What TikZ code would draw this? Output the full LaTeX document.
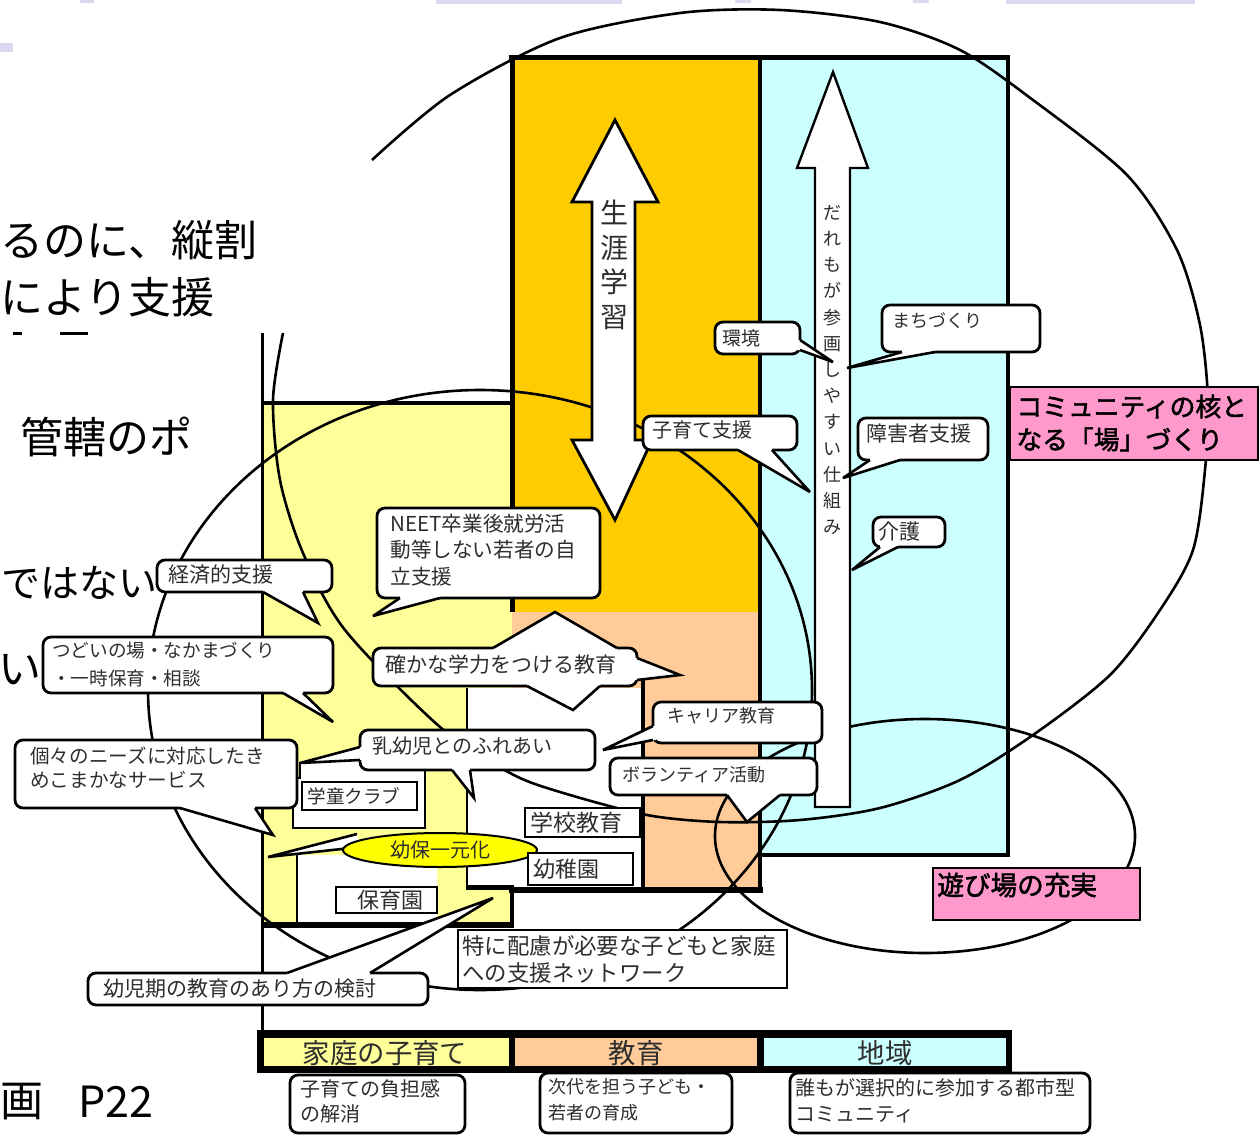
\documentclass[tikz,border=0pt]{standalone}
\usepackage{fontspec}
\setmainfont{Noto Sans CJK JP}
\newfontfamily\jpb[FakeBold=2]{Noto Sans CJK JP}
\usetikzlibrary{fit,shapes.geometric}
\definecolor{cyel}{HTML}{FFFF99}
\definecolor{corg}{HTML}{FFCC00}
\definecolor{cpch}{HTML}{FFCC99}
\definecolor{ccyn}{HTML}{CCFFFF}
\definecolor{cpnk}{HTML}{FF99CC}
\definecolor{cyel2}{HTML}{FFFF00}
\definecolor{txt}{HTML}{2E2E2E}
\definecolor{lav}{HTML}{D9D9EF}
\newcommand\fsz[2]{\fontsize{#1}{#2}\selectfont}
\newcommand\mkbox[6][bx]{\node[#1, fit={(#3,#4) (#5,#6)}] (#2) {};}
\newcommand\ctail[8]{%
  \fill[white] ({#1+#7},{#2+#8}) -- (#1,#2) -- (#5,#6) -- (#3,#4) -- ({#3+#7},{#4+#8}) -- cycle;
  \draw[tl] (#1,#2) -- (#5,#6) -- (#3,#4);}
\tikzset{
  bx/.style={draw=black, line width=1.4pt, fill=white, rounded corners=4pt, inner sep=0pt},
  sq/.style={draw=black, line width=1.3pt, fill=white, inner sep=0pt},
  pk/.style={draw=black, line width=1.2pt, fill=cpnk, inner sep=0pt},
  lbl/.style={inner sep=0pt, anchor=west, align=left, text=txt},
  tl/.style={draw=black, line width=1.3pt, line join=miter, miter limit=6},
  curve/.style={draw=black, line width=1.3pt},
  wall/.style={draw=black, line width=2pt},
  arr/.style={draw=black, line width=1.4pt, fill=white, line join=miter},
  big/.style={inner sep=0pt, text=black, font=\fsz{21.5}{26}},
}
\begin{document}
\begin{tikzpicture}[x=0.5pt,y=-0.5pt]
\useasboundingbox (0,0) rectangle (1260,1136);
\fill[white] (0,0) rectangle (1260,1136);
% slide decoration
\fill[lav] (80,0) rectangle (94,3);
\fill[lav] (436,0) rectangle (622,4);
\fill[lav] (735,0) rectangle (751,3);
\fill[lav] (913,0) rectangle (929,3);
\fill[lav] (1006,0) rectangle (1195,4);
\fill[lav] (0,43) rectangle (13,52);
% left slide text
\node[big, anchor=west] (ta) at (0,240) {るのに、縦割};
\node[big, anchor=west] (tb) at (0,297) {により支援};
\fill (13,332) rectangle (22,335);
\fill (60,332) rectangle (88,335);
\node[big, anchor=west] (tc) at (20,437) {管轄のポ};
\node[big, anchor=west, font=\fsz{19.5}{24}] (td) at (1,583) {ではない};
\node[big, anchor=east] (te) at (42,670) {い};
\node[big, anchor=west] (tf) at (0,1102) {画};
\node[big, anchor=west] (tg) at (78,1102) {P22};
% colour fields
\fill[cyel] (262,403) rectangle (512,925);
\fill[corg] (512,57) rectangle (760,612);
\fill[cpch] (512,612) rectangle (760,890);
\fill[ccyn] (760,57) rectangle (1008,855);
% white interior regions
\fill[white] (467,688) rectangle (643,890);
\fill[white] (300,762) -- (365,748) -- (365,770) -- (425,770) -- (425,828) -- (293,828) -- (293,778) -- (300,778) -- cycle;
\fill[white] (297,855) rectangle (437,923);
% walls
\draw[wall, line width=1.5pt] (262,333) -- (262,1035);
\draw[wall] (262,403) -- (514,403);
\draw[wall, line width=2.5pt] (509,57) -- (1010,57);
\draw[wall, line width=2.5pt] (512,57) -- (512,612);
\draw[wall] (760,57) -- (760,890);
\draw[wall] (1008,57) -- (1008,855) -- (760,855);
\draw[wall, line width=3pt] (509,890) -- (763,890);
\draw[wall, line width=3pt] (262,925) -- (514,925);
\draw[wall] (512,885) -- (512,925);
\draw[wall] (643,677) -- (643,890);
\draw[wall, line width=1.4pt] (467,688) -- (467,890);
\draw[wall, line width=2.5pt] (467,887) -- (512,887);
\draw[wall, line width=1.4pt] (300,762) -- (300,778) -- (293,778) -- (293,828) -- (425,828) -- (425,770);
\draw[wall, line width=1.4pt] (297,855) -- (297,923);
% circles
\draw[curve] plot[smooth, tension=0.5] coordinates {(372,160) (450,95) (560,38) (680,13) (780,10) (880,22) (960,50) (1033,100) (1127,175) (1177,250) (1200,325) (1208,400) (1205,470) (1193,550) (1160,610) (1110,675) (1033,735) (960,780) (880,808) (800,820) (720,822) (647,815) (560,792) (510,773) (440,727) (345,630) (303,553) (280,480) (273,400) (283,333)};
\draw[curve] (480,690) ellipse [x radius=332, y radius=300];
\draw[curve] (925,836) ellipse [x radius=210, y radius=117];
% arrows
\draw[arr] (615,120) -- (658,202) -- (635,202) -- (635,440) -- (652,440) -- (615,520) -- (572,440) -- (592,440) -- (592,202) -- (572,202) -- cycle;
\node[inner sep=0pt, align=center, text=txt, font=\fsz{14}{17.25}] (sgt) at (614,265) {生\\涯\\学\\習};
\draw[arr, line width=1.2pt] (833,72) -- (868,168) -- (850,168) -- (850,807) -- (815,807) -- (815,168) -- (797,168) -- cycle;
\node[inner sep=0pt, align=center, text=txt, font=\fsz{9}{13.1}] (dat) at (832,370) {だ\\れ\\も\\が\\参\\画\\し\\や\\す\\い\\仕\\組\\み};
% callouts
\mkbox{kankyo}{715}{322}{800}{354}
\ctail{800}{340}{800}{350}{833}{362}{-3}{0}
\node[lbl, font=\fsz{9.5}{12}] (kankyot) at (722,338) {環境};
\mkbox{machi}{882}{305}{1040}{352}
\ctail{902}{352}{935}{352}{847}{368}{0}{-3}
\node[lbl, font=\fsz{9}{11}] (machit) at (892,321) {まちづくり};
\mkbox{kosodate}{643}{416}{797}{450}
\ctail{738}{450}{772}{450}{810}{492}{0}{-3}
\node[lbl, font=\fsz{10}{12}] (kosodatet) at (652,430) {子育て支援};
\mkbox{shogai}{858}{418}{988}{460}
\ctail{870}{460}{900}{460}{843}{478}{0}{-3}
\node[lbl, font=\fsz{10.5}{13}] (shogait) at (866,434) {障害者支援};
\mkbox{kaigo}{873}{517}{945}{547}
\ctail{880}{547}{898}{547}{852}{570}{0}{-3}
\node[lbl, font=\fsz{10.5}{13}] (kaigot) at (878,532) {介護};
\mkbox{neet}{377}{508}{600}{598}
\ctail{400}{598}{440}{598}{373}{616}{0}{-3}
\node[lbl, font=\fsz{10.3}{13.25}] (neett) at (390,550) {NEET卒業後就労活\\動等しない若者の自\\立支援};
\mkbox{keizai}{157}{560}{332}{592}
\ctail{263}{592}{303}{592}{318}{623}{0}{-3}
\node[lbl, font=\fsz{10.5}{13}] (keizait) at (168,575) {経済的支援};
\mkbox{tsudoi}{43}{637}{333}{693}
\ctail{283}{693}{303}{693}{333}{722}{0}{-3}
\node[lbl, font=\fsz{9.3}{14}] (tsudoit) at (52,665) {つどいの場・なかまづくり\\・一時保育・相談};
\mkbox{tashika}{373}{648}{637}{686}
\ctail{493}{648}{617}{648}{555}{612}{0}{3}
\ctail{637}{658}{637}{680}{680}{675}{-3}{0}
\ctail{527}{686}{600}{686}{573}{710}{0}{-3}
\node[lbl, font=\fsz{10.5}{13}] (tashikat) at (385,665) {確かな学力をつける教育};
\mkbox{career}{653}{702}{822}{743}
\ctail{653}{726}{653}{740}{603}{750}{3}{0}
\node[lbl, font=\fsz{9}{11}] (careert) at (667,716) {キャリア教育};
\mkbox{volun}{610}{758}{817}{795}
\ctail{727}{795}{780}{795}{747}{822}{0}{-3}
\node[lbl, font=\fsz{9}{11}] (volunt) at (622,775) {ボランティア活動};
\mkbox{nyu}{360}{730}{595}{770}
\ctail{452}{770}{470}{770}{474}{798}{0}{-3}
\ctail{360}{747}{360}{760}{300}{763}{3}{0}
\node[lbl, font=\fsz{10}{12}] (nyut) at (372,746) {乳幼児とのふれあい};
\mkbox{koko}{15}{740}{297}{808}
\ctail{180}{808}{255}{808}{273}{835}{0}{-3}
\node[lbl, font=\fsz{9.8}{12}] (kokot) at (30,768) {個々のニーズに対応したき\\めこまかなサービス};
\mkbox[sq]{gakudo}{302}{782}{417}{810}
\node[lbl, font=\fsz{9.3}{11}] (gakudot) at (307,796) {学童クラブ};
\mkbox[sq]{hoiku}{336}{887}{437}{913}
\node[inner sep=0pt, text=txt, font=\fsz{11}{13}] (hoikut) at (390,900) {保育園};
\draw[tl, fill=white] (357,834) -- (268,857) -- (360,847);
\node[ellipse, draw=black, line width=1pt, fill=cyel2, minimum width=97pt, minimum height=17pt, inner sep=0pt, text=txt, font=\fsz{10}{12}] (yoho) at (440,850) {幼保一元化};
\mkbox[sq]{gakko}{525}{808}{640}{837}
\node[lbl, font=\fsz{11.5}{13}] (gakkot) at (530,823) {学校教育};
\mkbox[sq]{yochi}{528}{853}{633}{885}
\node[lbl, font=\fsz{11}{13}] (yochit) at (533,869) {幼稚園};
\mkbox[sq]{tokuni}{458}{930}{787}{988}
\node[lbl, font=\fsz{11.2}{13.5}] (tokunit) at (462,959) {特に配慮が必要な子どもと家庭\\への支援ネットワーク};
\mkbox{yoji}{88}{973}{428}{1005}
\ctail{287}{973}{370}{973}{493}{898}{0}{3}
\node[lbl, font=\fsz{10.5}{13}] (yojit) at (103,989) {幼児期の教育のあり方の検討};
% pink boxes
\mkbox[pk]{kaku}{1010}{387}{1258}{460}
\node[lbl, text=black, font=\jpb\fsz{12.9}{16.5}] (kakut) at (1016,423) {コミュニティの核と\\なる「場」づくり};
\mkbox[pk]{asobi}{933}{868}{1140}{920}
\node[lbl, text=black, font=\jpb\fsz{13.3}{16}] (asobit) at (937,885) {遊び場の充実};
% bottom bar
\fill[black] (257,1030) rectangle (1012,1073);
\fill[cyel] (264,1038) rectangle (509,1066);
\fill[cpch] (515,1038) rectangle (757,1066);
\fill[ccyn] (764,1038) rectangle (1006,1066);
\node[inner sep=0pt, text=txt, font=\fsz{13.7}{16}] (barA) at (385,1053) {家庭の子育て};
\node[inner sep=0pt, text=txt, font=\fsz{13.7}{16}] (barB) at (636,1053) {教育};
\node[inner sep=0pt, text=txt, font=\fsz{13.7}{16}] (barC) at (885,1053) {地域};
% bottom boxes
\mkbox{futan}{290}{1075}{465}{1133}
\node[lbl, font=\fsz{10}{12.5}] (futant) at (300,1101) {子育ての負担感\\の解消};
\mkbox{jidai}{540}{1073}{732}{1133}
\node[lbl, font=\fsz{9}{13}] (jidait) at (548,1100) {次代を担う子ども・\\若者の育成};
\mkbox{dare}{790}{1073}{1090}{1133}
\node[lbl, font=\fsz{10}{13}] (daret) at (795,1101) {誰もが選択的に参加する都市型\\コミュニティ};
\end{tikzpicture}
\end{document}
